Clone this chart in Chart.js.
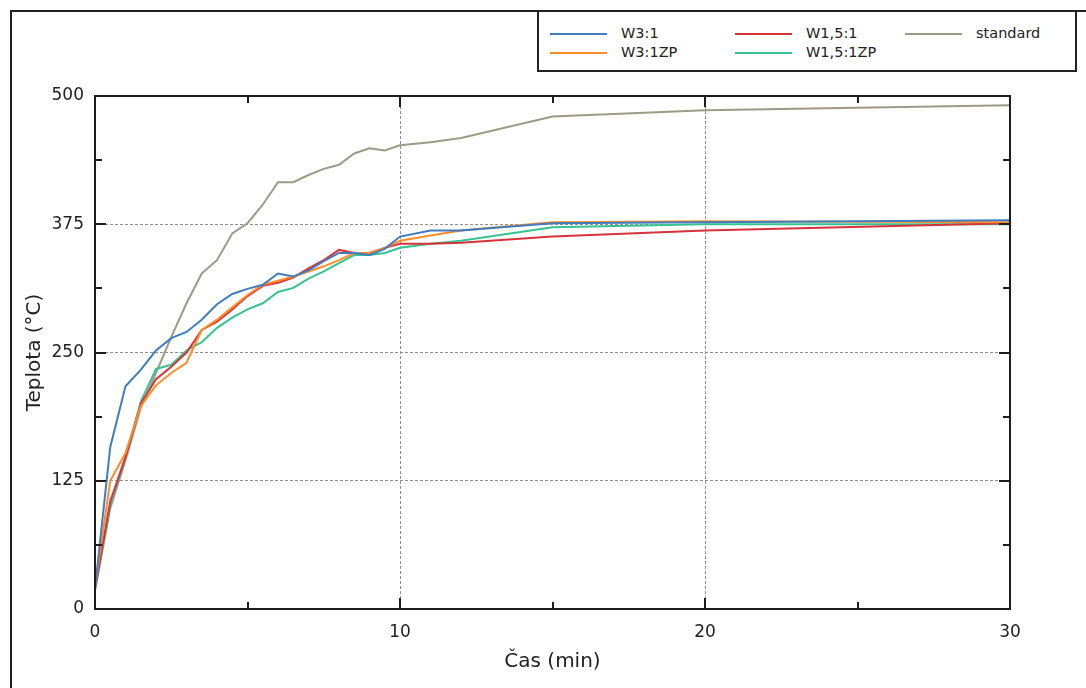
<!DOCTYPE html>
<html>
<head>
<meta charset="utf-8">
<script src="https://cdn.jsdelivr.net/npm/chart.js@4.4.1/dist/chart.umd.min.js"></script>
<style>
  html, body { margin: 0; padding: 0; background: #fff; }
  #wrap { position: relative; width: 1086px; height: 688px; overflow: hidden; }
  #frame { position: absolute; left: 10px; top: 10px; width: 1200px; height: 800px;
           border-left: 2px solid #222; border-top: 2px solid #222; }
  #chart { position: absolute; left: 0; top: 0; }
  #legend { position: absolute; left: 537px; top: 10px; width: 536px; height: 58px;
            border: 2px solid #222; background: #fff; font: 14.5px "DejaVu Sans", sans-serif; color: #222; }
  .swatch { position: absolute; width: 57px; height: 0; border-top: 2px solid; }
  .label { position: absolute; line-height: 18px; }
</style>
</head>
<body>
<div id="wrap">
  <div id="frame"></div>
  <canvas id="chart" width="1086" height="688"></canvas>
  <div id="legend"></div>
</div>
<script>
// čas (min) – společná osa x pro všechny řady
const times = [0, 0.5, 1, 1.5, 2, 2.5, 3, 3.5, 4, 4.5, 5, 5.5, 6, 6.5, 7, 7.5, 8, 8.5, 9, 9.5, 10, 11, 12, 15, 20, 30];

// teploty (°C)
const w31      = [20, 158, 217, 233, 252, 264, 270, 282, 297, 307, 312, 316, 327, 324, 330, 339, 347, 347, 345, 351, 363, 369, 369, 376, 377, 379];
const w31zp    = [22, 125, 152, 198, 218, 230, 240, 272, 282, 294, 306, 316, 320, 324, 329, 334, 340, 347, 347, 352, 359, 364, 369, 377, 378, 377];
const w151     = [20, 105, 148, 200, 224, 236, 250, 272, 280, 292, 305, 315, 318, 323, 332, 340, 350, 347, 347, 352, 356, 356, 357, 363, 369, 376];
const w151zp   = [20, 102, 148, 202, 234, 238, 252, 260, 274, 284, 292, 298, 309, 313, 322, 329, 337, 345, 345, 347, 352, 356, 359, 372, 375, 375];
const standard = [18, 98, 145, 196, 230, 265, 298, 327, 340, 366, 376, 394, 416, 416, 423, 429, 433, 444, 449, 447, 452, 455, 459, 480, 486, 491];

const seriesNames = ["W3:1", "W3:1ZP", "W1,5:1", "W1,5:1ZP", "standard"];
const seriesValues = [w31, w31zp, w151, w151zp, standard];
const seriesColors = ["#3f7cc0", "#ff8c26", "#d8323a", "#35c490", "#9c9c86"];

const xTicks = [0, 10, 20, 30];
const yTicks = [0, 125, 250, 375, 500];

const datasets = seriesNames.map((name, i) => ({
    label: name,
    data: times.map((t, j) => ({ x: t, y: seriesValues[i][j] })),
    borderColor: seriesColors[i],
    backgroundColor: seriesColors[i],
    borderWidth: 2,
    pointRadius: 0,
    tension: 0,
    fill: false
}));

// legenda v rámečku vpravo nahoře (2 řádky, po sloupcích)
const legendBox = document.getElementById("legend");
const colX = [11, 196, 366];
const rowY = [22, 41];
seriesNames.forEach((name, i) => {
    const col = Math.floor(i / 2), row = i % 2;
    const sw = document.createElement("div");
    sw.className = "swatch";
    sw.style.left = colX[col] + "px";
    sw.style.top = (rowY[row] - 1) + "px";
    sw.style.borderTopColor = seriesColors[i];
    legendBox.appendChild(sw);
    const lb = document.createElement("div");
    lb.className = "label";
    lb.textContent = name;
    lb.style.left = (colX[col] + 71) + "px";
    lb.style.top = (rowY[row] - 10) + "px";
    legendBox.appendChild(lb);
});

// rámeček grafu + krátké značky dovnitř na všech čtyřech stranách
const frameTicks = {
    id: "frameTicks",
    afterDatasetsDraw(chart) {
        const { ctx, chartArea: a, scales: { x, y } } = chart;
        ctx.save();
        ctx.strokeStyle = "#1e1e1e";
        ctx.lineWidth = 2;
        const seg = (x1, y1, x2, y2) => { ctx.beginPath(); ctx.moveTo(x1, y1); ctx.lineTo(x2, y2); ctx.stroke(); };
        x.ticks.forEach(t => {
            const px = Math.round(x.getPixelForValue(t.value));
            const len = xTicks.includes(t.value) ? 11 : 7;
            seg(px, a.bottom, px, a.bottom - len);
            seg(px, a.top, px, a.top + len);
        });
        y.ticks.forEach(t => {
            const py = Math.round(y.getPixelForValue(t.value));
            const len = yTicks.includes(t.value) ? 11 : 7;
            seg(a.left, py, a.left + len, py);
            seg(a.right, py, a.right - len, py);
        });
        ctx.strokeRect(a.left, a.top, a.right - a.left, a.bottom - a.top);
        ctx.restore();
    }
};

const gridColor = (ticks, lo, hi) => (c) =>
    (c.tick && ticks.includes(c.tick.value) && c.tick.value !== lo && c.tick.value !== hi) ? "#8e8e8e" : "rgba(0,0,0,0)";

new Chart(document.getElementById("chart"), {
    type: "line",
    data: { datasets: datasets },
    plugins: [frameTicks],
    options: {
        responsive: false,
        animation: false,
        devicePixelRatio: 1,
        layout: { padding: { top: 96, right: 76, left: 0, bottom: 0 } },
        plugins: {
            legend: { display: false },
            tooltip: { enabled: false }
        },
        scales: {
            x: {
                type: "linear",
                min: 0,
                max: 30,
                afterFit: s => { s.height = 79; },
                ticks: {
                    stepSize: 5,
                    autoSkip: false,
                    maxRotation: 0,
                    padding: 13,
                    color: "#222",
                    font: { family: "DejaVu Sans", size: 17 },
                    callback: v => xTicks.includes(v) ? String(v) : ""
                },
                grid: { drawTicks: false, lineWidth: 1, color: gridColor(xTicks, 0, 30) },
                border: { display: false, dash: [3, 2] },
                title: {
                    display: true,
                    text: "Čas (min)",
                    color: "#222",
                    font: { family: "DejaVu Sans", size: 20 },
                    padding: { top: 0, bottom: 14 }
                }
            },
            y: {
                min: 0,
                max: 500,
                afterFit: s => { s.width = 95; },
                ticks: {
                    stepSize: 62.5,
                    autoSkip: false,
                    padding: 11,
                    color: "#222",
                    font: { family: "DejaVu Sans", size: 17 },
                    callback: v => yTicks.includes(v) ? String(v) : ""
                },
                grid: { drawTicks: false, lineWidth: 1, color: gridColor(yTicks, 0, 500) },
                border: { display: false, dash: [3, 2] },
                title: {
                    display: true,
                    text: "Teplota (°C)",
                    color: "#222",
                    font: { family: "DejaVu Sans", size: 20 },
                    padding: { top: 23, bottom: 0 }
                }
            }
        }
    }
});
</script>
</body>
</html>
